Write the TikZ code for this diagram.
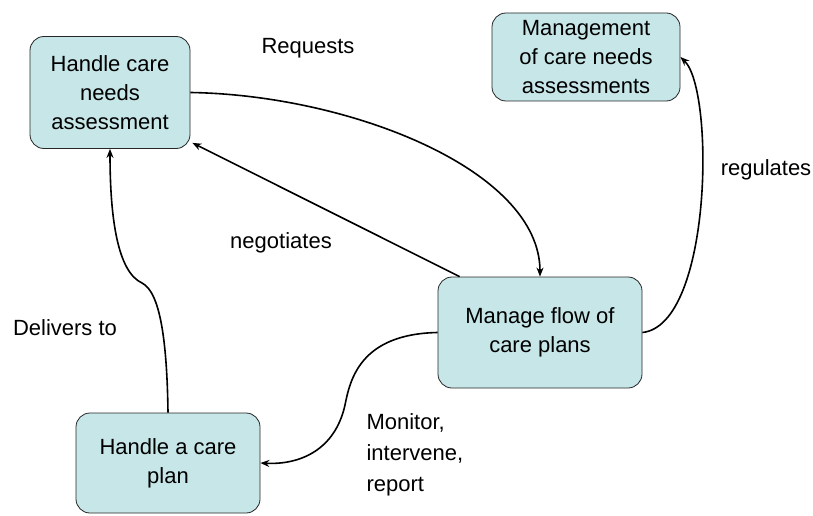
\documentclass[tikz,border=0pt]{standalone}
\usepackage{fontspec}
\setmainfont{Liberation Sans}
\usetikzlibrary{arrows.meta}
\definecolor{boxfill}{RGB}{198,230,232}
\begin{document}
\begin{tikzpicture}[x=1pt, y=-1pt,
    font=\fontsize{22}{29}\selectfont,
    box/.style={draw=black!85, line width=0.8pt, fill=boxfill, rounded corners=14pt,
      align=center, inner sep=0pt},
    link/.style={line width=1.6pt, -{Stealth[length=9pt, width=7pt]}}]
        \useasboundingbox (0, 0) rectangle (813, 516);

        \node[box, minimum width=160, minimum height=112] (assess) at (110, 92.5) {Handle care\\needs\\assessment};
        \node[box, minimum width=188, minimum height=88] (mgmt) at (586, 57) {Management\\of care needs\\assessments};
        \node[box, minimum width=204, minimum height=111] (flow) at (540, 332.5) {Manage flow of\\care plans};
        \node[box, minimum width=184, minimum height=100] (plan) at (168, 463) {Handle a care\\plan};

        \draw[link] (assess.east) .. controls (350, 95) and (540, 170) .. (flow.north);
        \draw[link] ([xshift=22pt]flow.north west) -- ([shift={(2pt,6pt)}]assess.south east);
        \draw[link] (flow.east) .. controls (712, 325) and (715, 90) .. (mgmt.east);
        \draw[link] (plan.north) .. controls (167, 340) and (160, 292) .. (142, 283)
          .. controls (118, 272) and (110, 220) .. (assess.south);
        \draw[link] (flow.west) .. controls (360, 334) and (350, 380) .. (345, 405)
          .. controls (335, 450) and (300, 465) .. (plan.east);

        \node (requests) at (308, 48) {Requests};
        \node (negotiates) at (281, 243) {negotiates};
        \node (regulates) at (766, 170) {regulates};
        \node (delivers) at (65, 328) {Delivers to};
        \node[anchor=west, align=left, font=\fontsize{22}{31}\selectfont] (monitor) at (363, 455) {Monitor,\\intervene,\\report};
      \end{tikzpicture}
\end{document}
